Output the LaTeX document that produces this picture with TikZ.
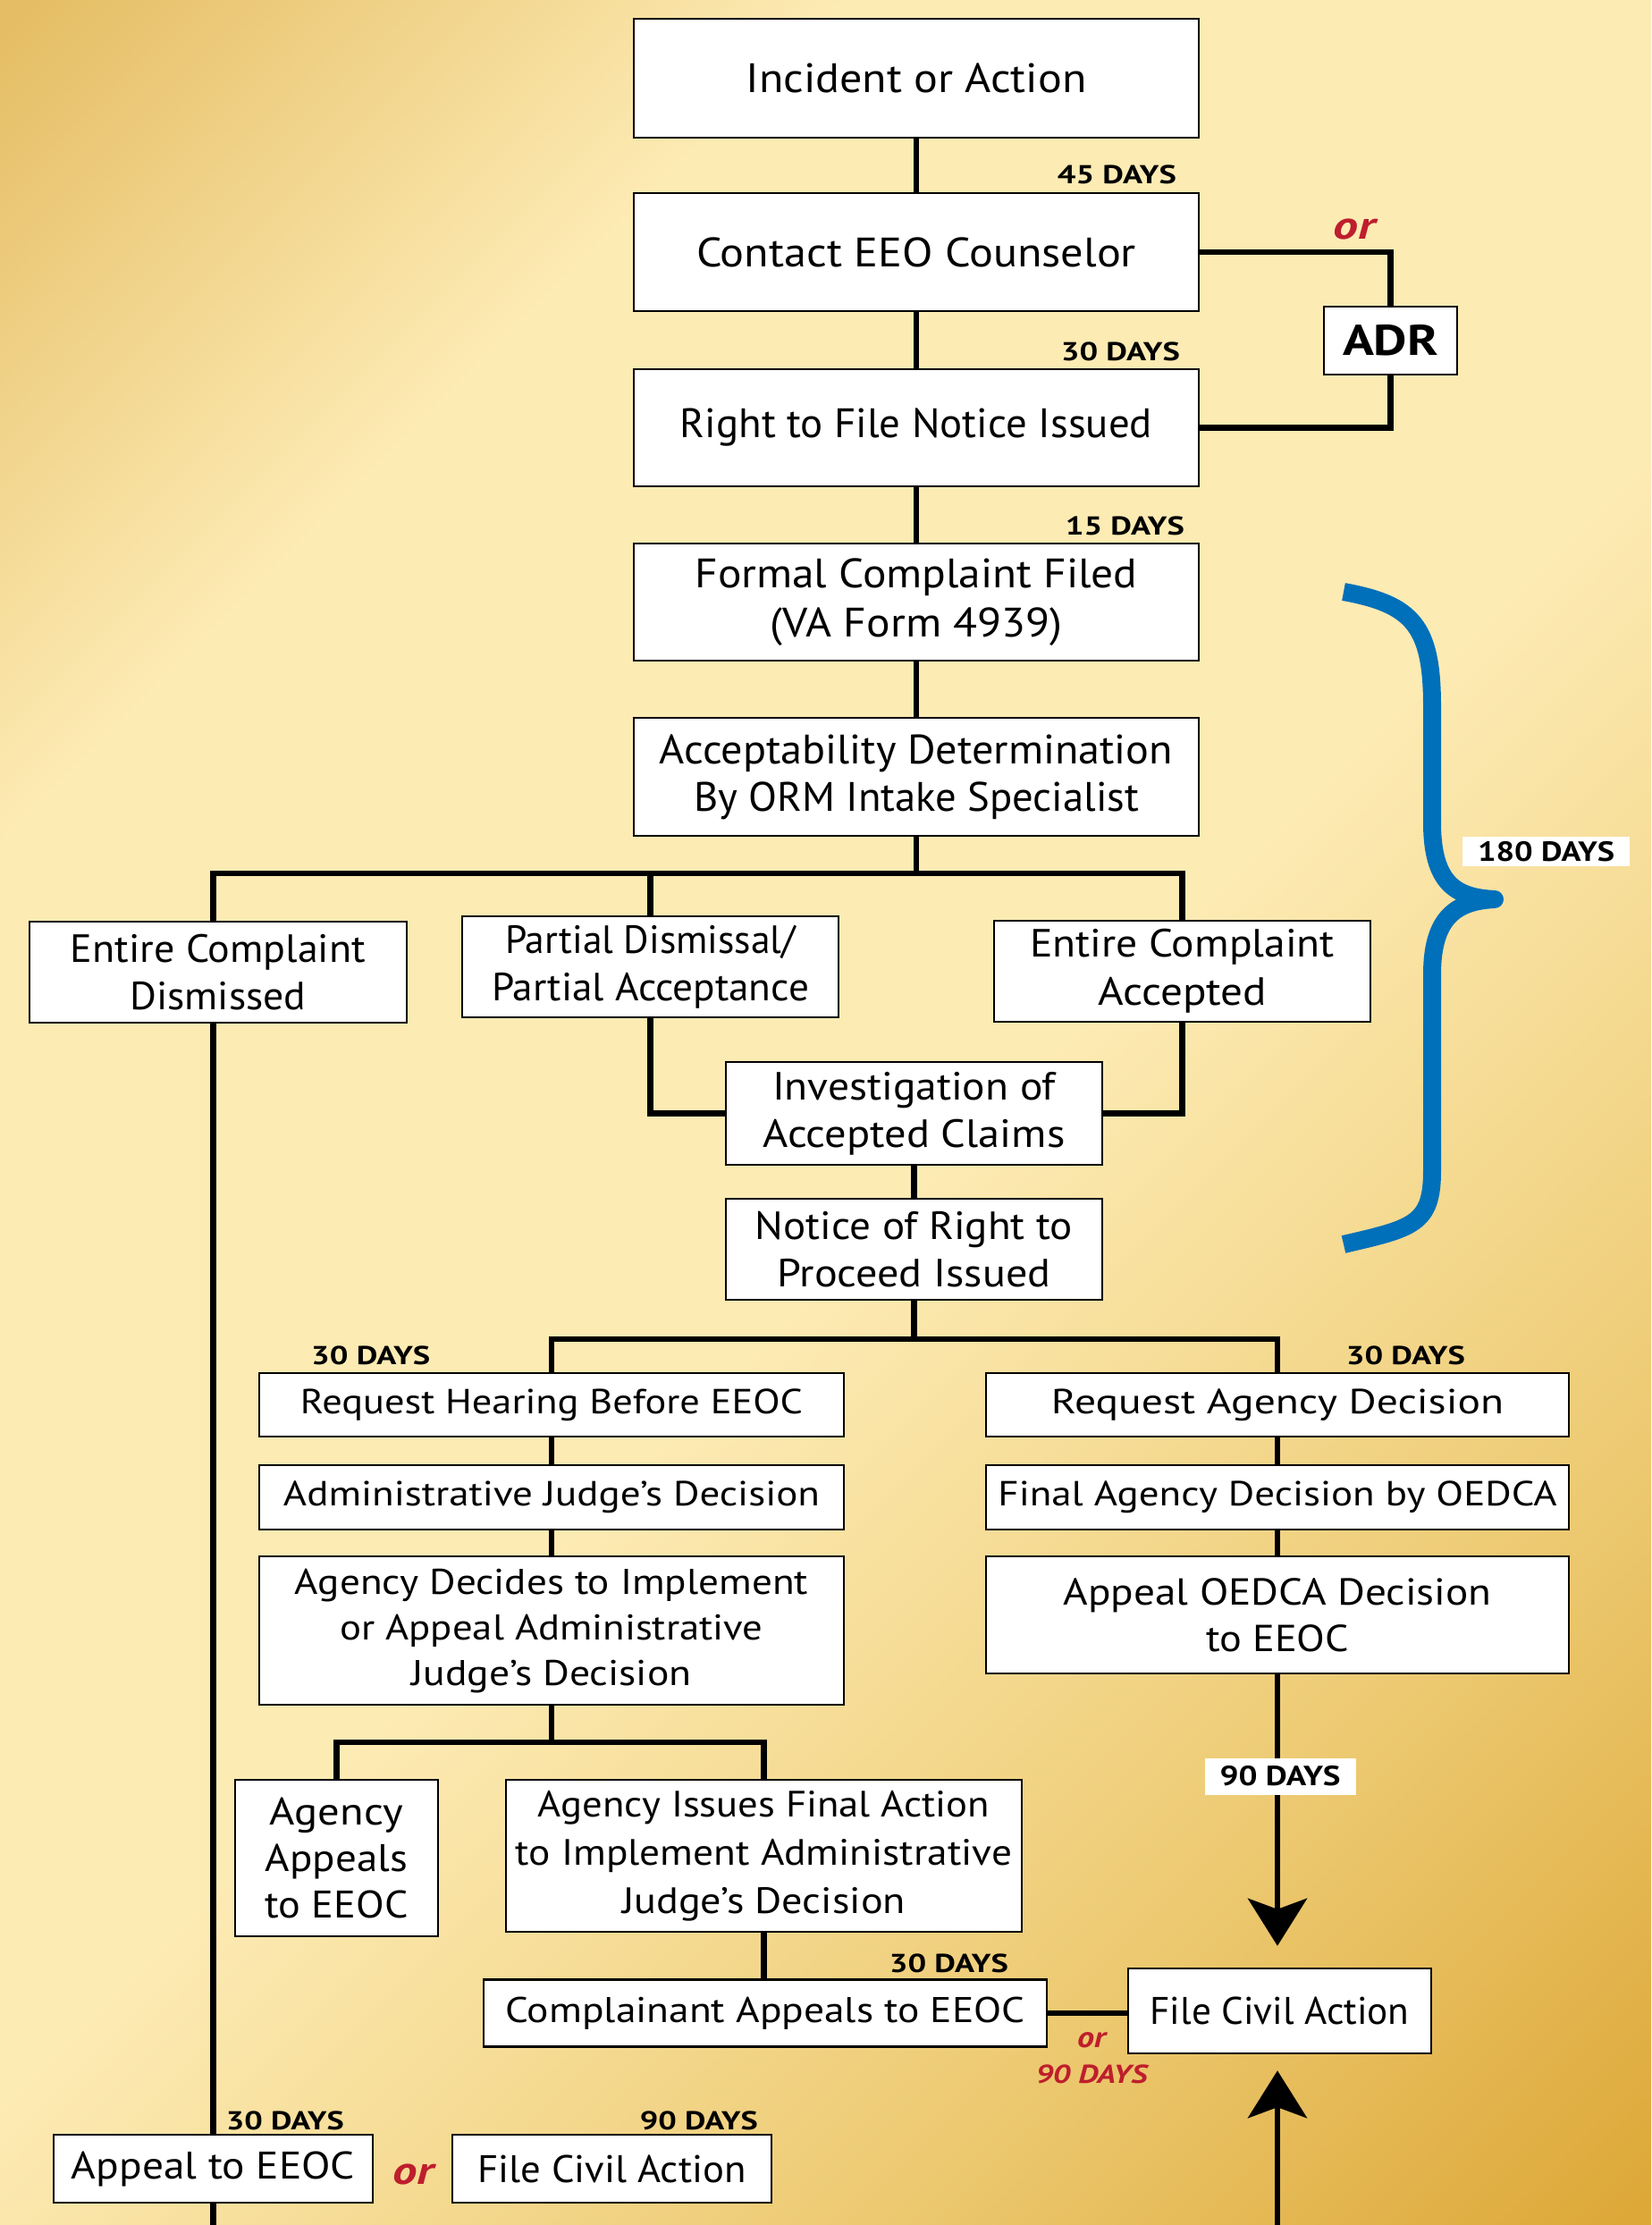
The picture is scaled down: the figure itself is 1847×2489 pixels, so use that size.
\documentclass[tikz,border=0pt]{standalone}
\usepackage{fontspec}
\setmainfont{PT Sans}
\usetikzlibrary{arrows.meta,calc}
\definecolor{gTL}{RGB}{229,189,100}
\definecolor{pale}{RGB}{253,235,180}
\definecolor{gM}{RGB}{238,204,118}
\definecolor{gBR}{RGB}{221,168,56}
\definecolor{redor}{RGB}{190,30,45}
\definecolor{braceblue}{RGB}{0,112,186}
\pgfdeclareverticalshading{bgsh}{100bp}{color(0bp)=(gBR); color(15bp)=(gBR); color(30bp)=(gM); color(47bp)=(pale); color(70bp)=(pale); color(85bp)=(gTL); color(100bp)=(gTL)}
\newcommand\fw[2]{\resizebox{#1pt}{\height}{#2}}
\newcommand\fs[2]{\fontsize{#1}{#2}\selectfont}
\begin{document}
\begin{tikzpicture}[x=1pt,y=-1pt,
  box/.style={draw=black, line width=2.5pt, fill=white, inner sep=0pt, align=center},
  conn/.style={line width=6.5pt},
  dayl/.style={font=\fs{29}{30}\bfseries, inner sep=0pt},
  wlab/.style={fill=white, inner sep=0pt, font=\fs{31}{32}\bfseries},
  redl/.style={text=redor, inner sep=0pt},
  tip/.style={-{Stealth[length=53pt,width=66pt,inset=12pt]}},
  brace/.style={draw=braceblue, line width=20pt}
]
\useasboundingbox (0,0) rectangle (1847,2489);
\shade[shading=bgsh, shading angle=45] (0,0) rectangle (1847,2489);

% top chain
\node[box, minimum width=632pt, minimum height=133pt, font=\fs{46}{54}] (inc) at (1025,87.5) {\fw{381}{Incident or Action}};
\node[box, minimum width=632pt, minimum height=132pt, font=\fs{46}{54}] (cnt) at (1025,282) {\fw{492}{Contact EEO Counselor}};
\node[box, minimum width=632pt, minimum height=131pt, font=\fs{46}{54}] (rtf) at (1025,478.5) {\fw{528}{Right to File Notice Issued}};
\node[box, minimum width=632pt, minimum height=131pt, font=\fs{46}{55}] (fcf) at (1025,673.5) {\fw{495}{Formal Complaint Filed}\\\fw{327}{(VA Form 4939)}};
\node[box, minimum width=632pt, minimum height=132pt, font=\fs{46}{53}] (acc) at (1025,869) {\fw{574}{Acceptability Determination}\\\fw{498}{By ORM Intake Specialist}};
\node[box, minimum width=149pt, minimum height=76pt, font=\fs{48}{50}\bfseries] (adr) at (1555.5,381) {\fw{107}{ADR}};

% three outcomes
\node[box, minimum width=422pt, minimum height=113pt, font=\fs{44}{53}] (ecd) at (244,1087.5) {\fw{330}{Entire Complaint}\\\fw{197}{Dismissed}};
\node[box, minimum width=421pt, minimum height=113pt, font=\fs{44}{53}] (pda) at (727.5,1081.5) {\fw{325}{Partial Dismissal/}\\\fw{355}{Partial Acceptance}};
\node[box, minimum width=421pt, minimum height=113pt, font=\fs{44}{54}] (eca) at (1322.5,1086.5) {\fw{341}{Entire Complaint}\\\fw{189}{Accepted}};
\node[box, minimum width=421pt, minimum height=115pt, font=\fs{44}{53}] (inv) at (1022.5,1245.5) {\fw{317}{Investigation of}\\\fw{338}{Accepted Claims}};
\node[box, minimum width=421pt, minimum height=113pt, font=\fs{44}{53}] (nrp) at (1022.5,1397.5) {\fw{355}{Notice of Right to}\\\fw{306}{Proceed Issued}};

% hearing branch
\node[box, minimum width=654pt, minimum height=71pt, font=\fs{39}{47}] (rhe) at (617,1571.5) {\fw{562}{Request Hearing Before EEOC}};
\node[box, minimum width=654pt, minimum height=72pt, font=\fs{39}{47}] (ajd) at (617,1675) {\fw{600}{Administrative Judge’s Decision}};
\node[box, minimum width=654pt, minimum height=166pt, font=\fs{40}{51}] (adi) at (617,1824) {\fw{574}{Agency Decides to Implement}\\\fw{473}{or Appeal Administrative}\\\fw{313}{Judge’s Decision}};
\node[box, minimum width=227pt, minimum height=175pt, font=\fs{43}{52}] (aae) at (376.5,2078.5) {\fw{149}{Agency}\\\fw{159}{Appeals}\\\fw{160}{to EEOC}};
\node[box, minimum width=577pt, minimum height=170pt, font=\fs{41}{54}] (aif) at (854.5,2076) {\fw{505}{Agency Issues Final Action}\\\fw{555}{to Implement Administrative}\\\fw{317}{Judge’s Decision}};
\node[box, minimum width=630pt, minimum height=75pt, font=\fs{40}{48}] (cae) at (856,2252) {\fw{581}{Complainant Appeals to EEOC}};

% agency decision branch
\node[box, minimum width=652pt, minimum height=71pt, font=\fs{39}{47}] (rad) at (1429,1571.5) {\fw{506}{Request Agency Decision}};
\node[box, minimum width=652pt, minimum height=72pt, font=\fs{39}{47}] (fad) at (1429,1675) {\fw{625}{Final Agency Decision by OEDCA}};
\node[box, minimum width=652pt, minimum height=131pt, font=\fs{42}{52}] (aoe) at (1429,1806.5) {\fw{479}{Appeal OEDCA Decision}\\\fw{160}{to EEOC}};
\node[box, minimum width=339pt, minimum height=95pt, font=\fs{43}{50}] (fca) at (1431.5,2249.5) {\fw{290}{File Civil Action}};

% bottom
\node[box, minimum width=357pt, minimum height=76pt, font=\fs{43}{50}] (ate) at (238.5,2426) {\fw{317}{Appeal to EEOC}};
\node[box, minimum width=357pt, minimum height=76pt, font=\fs{43}{50}] (fcb) at (684.5,2426) {\fw{300}{File Civil Action}};

% connectors
\coordinate (b1) at (1025,977);
\coordinate (b2) at (1023,1498);
\coordinate (b3) at (617,1949);
\coordinate (bot) at (0,2489);
\draw[conn] (inc.south) -- (cnt.north);
\draw[conn] (cnt.south) -- (rtf.north);
\draw[conn] (rtf.south) -- (fcf.north);
\draw[conn] (fcf.south) -- (acc.north);
\draw[conn] (cnt.east) -| (adr.north);
\draw[conn] (adr.south) |- (rtf.east);
\draw[conn] (acc.south) -- (b1);
\draw[conn] (ate.north |- ecd.north) -- (ate.north |- b1) -- (eca.north |- b1) -- (eca.north);
\draw[conn] (pda.north) -- (pda.north |- b1);
\draw[conn] (pda.south) |- (inv.west);
\draw[conn] (eca.south) |- (inv.east);
\draw[conn] (inv.south) -- (nrp.north);
\draw[conn] (nrp.south) -- (nrp.south |- b2);
\draw[conn] (rhe.north) -- (rhe.north |- b2) -- (rad.north |- b2) -- (rad.north);
\draw[conn] (rhe.south) -- (ajd.north);
\draw[conn] (ajd.south) -- (adi.north);
\draw[conn] (rad.south) -- (fad.north);
\draw[conn] (fad.south) -- (aoe.north);
\draw[conn] (adi.south) -- (adi.south |- b3);
\draw[conn] (aae.north) -- (aae.north |- b3) -- (aif.north |- b3) -- (aif.north);
\draw[conn] (aif.south) -- (aif.south |- cae.north);
\draw[conn] (cae.east) -- (cae.east -| fca.west);
\draw[conn] (ate.north |- ecd.south) -- (ate.north);
\draw[conn] (ate.south) -- (ate.south |- bot);
\draw[conn, tip, shorten >=24pt] (aoe.south) -- (aoe.south |- fca.north);
\draw[conn, tip, shorten >=18pt] (aoe.south |- bot) -- (aoe.south |- fca.south);

% day labels
\node[dayl, anchor=base east] (l45) at (1316,205) {\fw{133}{45 DAYS}};
\node[dayl, anchor=base east] (l30a) at (1320,403) {\fw{133}{30 DAYS}};
\node[dayl, anchor=base east] (l15) at (1325,598) {\fw{133}{15 DAYS}};
\node[dayl, anchor=base west] (l30b) at (348,1526) {\fw{133}{30 DAYS}};
\node[dayl, anchor=base east] (l30c) at (1639,1526) {\fw{133}{30 DAYS}};
\node[dayl, anchor=base east] (l30d) at (1128,2206) {\fw{133}{30 DAYS}};
\node[dayl, anchor=base east] (l30e) at (385,2382) {\fw{132}{30 DAYS}};
\node[dayl, anchor=base east] (l90b) at (848,2382) {\fw{132}{90 DAYS}};
\node[wlab, minimum width=169pt, minimum height=41pt] (l90) at (1432,1987) {\fw{135}{90 DAYS}};
\node[wlab, minimum width=187pt, minimum height=33pt] (l180) at (1729.5,952.5) {\fw{153}{180 DAYS}};

% red labels
\node[redl, anchor=base, font=\fs{44}{44}\bfseries\itshape] (or1) at (1515,267) {\fw{47}{or}};
\node[redl, anchor=base, font=\fs{44}{44}\bfseries\itshape] (or2) at (462,2443) {\fw{46}{or}};
\node[redl, anchor=base, font=\fs{33}{33}\bfseries\itshape] (or3) at (1221,2290) {\fw{32}{or}};
\node[redl, anchor=base, font=\fs{29}{29}\bfseries\itshape] (d90r) at (1221,2330) {\fw{125}{90 DAYS}};

% brace
\draw[brace] (1503,662) .. controls (1580,676) and (1602,700) .. (1602,790) -- (1602,920) .. controls (1602,990) and (1630,1004) .. (1672,1006);
\draw[brace, line cap=round] (1660,1006) -- (1672,1006);
\draw[brace] (1672,1006) .. controls (1630,1008) and (1602,1025) .. (1602,1090) -- (1602,1310) .. controls (1602,1370) and (1580,1374) .. (1503,1392);
\end{tikzpicture}
\end{document}
